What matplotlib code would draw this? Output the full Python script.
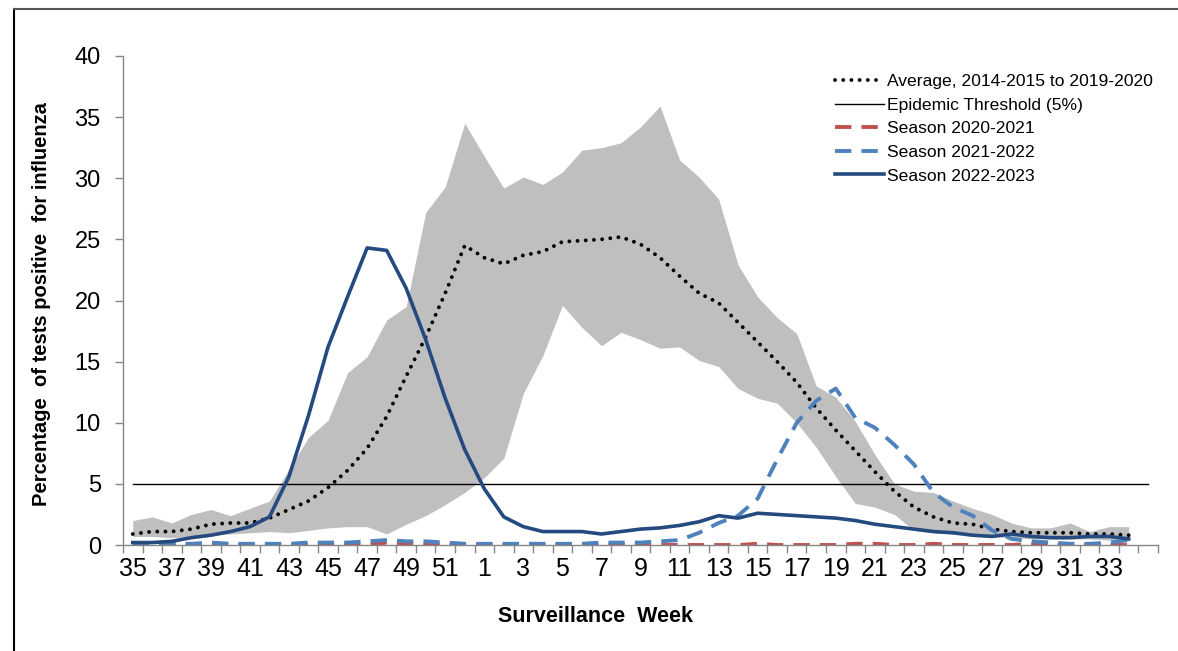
import numpy as np
import matplotlib.pyplot as plt
from matplotlib.lines import Line2D

# surveillance weeks 35..52, 1..34 plus one empty slot at the end (threshold only)
weeks = [str(w) for w in range(35, 53)] + [str(w) for w in range(1, 35)] + ['']

avg = [0.9, 1.1, 1.1, 1.3, 1.7, 1.8, 1.8, 2.2, 2.9, 3.6, 4.7, 6.1, 7.9, 10.5, 13.8, 17.0,
       20.6, 24.5, 23.5, 23.0, 23.7, 24.0, 24.8, 24.9, 25.0, 25.2, 24.6, 23.5, 22.0, 20.6,
       19.8, 18.2, 16.6, 15.0, 13.3, 11.2, 9.4, 7.7, 6.0, 4.4, 3.1, 2.3, 1.8, 1.7, 1.3, 1.1,
       1.0, 1.0, 1.0, 0.9, 0.9, 0.8]
rng_hi = [2.0, 2.3, 1.8, 2.5, 2.9, 2.4, 3.0, 3.6, 6.2, 8.8, 10.2, 14.1, 15.4, 18.4, 19.5,
          27.2, 29.3, 34.5, 31.8, 29.2, 30.1, 29.5, 30.5, 32.3, 32.5, 32.9, 34.2, 35.9, 31.5,
          30.1, 28.3, 22.9, 20.3, 18.6, 17.3, 13.0, 12.1, 10.1, 7.4, 5.0, 4.4, 4.3, 3.6, 3.0,
          2.5, 1.8, 1.4, 1.4, 1.8, 1.1, 1.5, 1.5]
rng_lo = [0.7, 0.7, 0.6, 0.7, 0.8, 0.9, 1.0, 1.1, 1.0, 1.2, 1.4, 1.5, 1.5, 0.9, 1.7, 2.4,
          3.3, 4.3, 5.5, 7.1, 12.4, 15.5, 19.6, 17.8, 16.3, 17.4, 16.8, 16.1, 16.2, 15.1,
          14.6, 12.8, 12.0, 11.6, 10.0, 8.0, 5.6, 3.4, 3.1, 2.5, 1.2, 1.0, 0.9, 0.8, 0.7,
          0.6, 0.5, 0.5, 0.5, 0.5, 0.4, 0.4]
s2021 = [0.0, 0.0, 0.1, 0.0, 0.1, 0.0, 0.0, 0.0, 0.0, 0.0, 0.0, 0.0, 0.0, 0.2, 0.1, 0.0,
         0.0, 0.0, 0.0, 0.0, 0.0, 0.0, 0.0, 0.0, 0.0, 0.0, 0.0, 0.0, 0.0, 0.0, 0.0, 0.0,
         0.1, 0.0, 0.0, 0.0, 0.0, 0.1, 0.1, 0.0, 0.0, 0.1, 0.0, 0.0, 0.0, 0.0, 0.1, 0.0,
         0.0, 0.0, 0.0, 0.0]
s2122 = [0.1, 0.1, 0.1, 0.1, 0.2, 0.1, 0.1, 0.1, 0.1, 0.2, 0.2, 0.2, 0.3, 0.4, 0.3, 0.3,
         0.2, 0.1, 0.1, 0.1, 0.1, 0.1, 0.1, 0.1, 0.2, 0.2, 0.2, 0.3, 0.4, 1.0, 1.8, 2.4,
         3.8, 7.0, 10.0, 11.8, 12.8, 10.4, 9.6, 8.2, 6.6, 4.3, 3.1, 2.4, 1.2, 0.5, 0.3,
         0.2, 0.1, 0.1, 0.2, 0.4]
s2223 = [0.2, 0.2, 0.3, 0.6, 0.8, 1.1, 1.5, 2.3, 5.6, 10.6, 16.2, 20.3, 24.3, 24.1, 21.0,
         16.8, 12.0, 7.8, 4.6, 2.3, 1.5, 1.1, 1.1, 1.1, 0.9, 1.1, 1.3, 1.4, 1.6, 1.9, 2.4,
         2.2, 2.6, 2.5, 2.4, 2.3, 2.2, 2.0, 1.7, 1.5, 1.3, 1.1, 1.0, 0.8, 0.7, 0.9, 0.7,
         0.6, 0.6, 0.7, 0.7, 0.5]
threshold = [5.0] * len(weeks)

plt.rcParams['font.family'] = ['Liberation Sans', 'DejaVu Sans']

fig = plt.figure(figsize=(11.78, 6.51), dpi=100)
ax = fig.add_axes([123 / 1178, 1 - 545 / 651, 1035 / 1178, 489 / 651])

x = np.arange(len(avg))
xt = np.arange(len(threshold))

ax.fill_between(x, rng_lo, rng_hi, color='#BFBFBF', linewidth=0)
ax.plot(xt, threshold, color='black', lw=1.0, label='Epidemic Threshold (5%)')
ax.plot(x, avg, color='black', lw=2.8, linestyle=(0, (0.01, 2.1)),
        dash_capstyle='round', label='Average, 2014-2015 to 2019-2020')
ax.plot(x, s2021, color='#C0504D', lw=2.8, dashes=(4.2, 2.6), label='Season 2020-2021')
ax.plot(x, s2122, color='#4F81BD', lw=2.8, dashes=(4.2, 2.6), label='Season 2021-2022')
ax.plot(x, s2223, color='#254A7F', lw=2.6, label='Season 2022-2023')

ax.set_xlim(-0.5, len(weeks) - 0.5)
ax.set_ylim(0, 40)
ax.set_yticks(np.arange(0, 41, 5))
ax.set_xticks(np.arange(0, len(weeks), 2))
ax.set_xticklabels([weeks[i] for i in range(0, len(weeks), 2)])
ax.set_xticks(np.arange(-0.5, len(weeks)), minor=True)

for side in ['top', 'right']:
    ax.spines[side].set_visible(False)
for side in ['left', 'bottom']:
    ax.spines[side].set_color('#868686')
    ax.spines[side].set_linewidth(1.0)

ax.tick_params(axis='y', length=6, width=1, color='#868686', pad=10, labelsize=17)
ax.tick_params(axis='x', which='major', length=0, pad=9, labelsize=18)
ax.tick_params(axis='x', which='minor', length=6, width=1, color='#868686')

ax.set_ylabel('Percentage  of tests positive  for influenza', fontsize=14.5,
              fontweight='bold')
ax.yaxis.set_label_coords((51 - 123) / 1035, (545 - 304) / 489)
ax.set_xlabel('Surveillance  Week', fontsize=15.5, fontweight='bold')
ax.xaxis.set_label_coords((596 - 123) / 1035, -(606 - 545) / 489)

handles, labels = ax.get_legend_handles_labels()
order = [1, 0, 2, 3, 4]
ax.legend([handles[i] for i in order], [labels[i] for i in order],
          loc='upper left', bbox_to_anchor=(826 / 1178, 1 - 65 / 651),
          bbox_transform=fig.transFigure, frameon=False, fontsize=12.6,
          handlelength=2.8, handletextpad=0.2, labelspacing=0.48, borderpad=0)

# chart area border (left and top edges visible in the screenshot)
fig.add_artist(Line2D([14 / 1178, 14 / 1178], [0, 1 - 9 / 651], color='black', lw=1.5,
                      transform=fig.transFigure))
fig.add_artist(Line2D([14 / 1178, 1], [1 - 9 / 651, 1 - 9 / 651], color='#555555', lw=1.5,
                      transform=fig.transFigure))

fig.savefig('out.png', dpi=100)
